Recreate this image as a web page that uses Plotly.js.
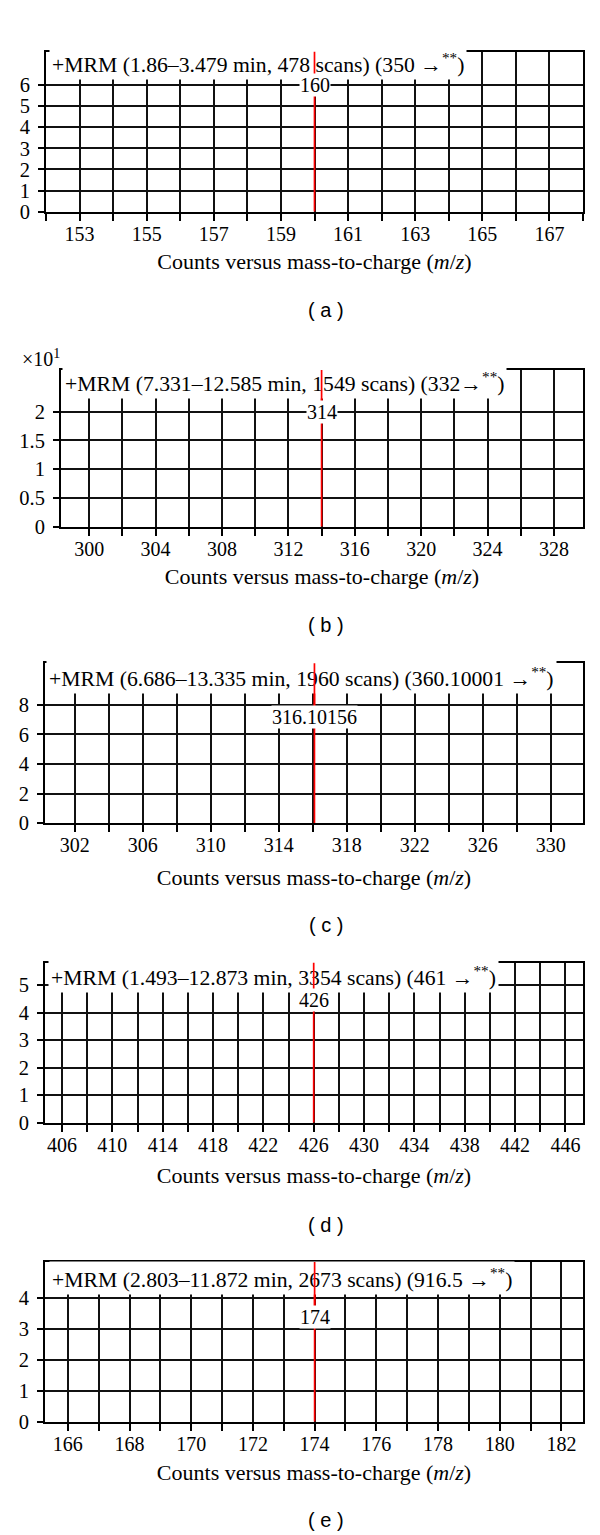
<!DOCTYPE html>
<html><head><meta charset="utf-8">
<script src="https://cdn.plot.ly/plotly-3.0.1.min.js"></script>
<style>html,body{margin:0;padding:0;background:#fff}#chart{width:600px;height:1535px}</style>
</head><body><div id="chart"></div>
<script>
// ---------- DATA ----------
// (a)
const aTitle = '+MRM (1.86–3.479 min, 478 scans) (350 →<sup>**</sup>)';
const aPeakMz = [160];
const aPeakCounts = [7.8];
const aPeakLabels = ['160'];
const aXTicks = [153, 155, 157, 159, 161, 163, 165, 167];
const aYTicks = [0, 1, 2, 3, 4, 5, 6];
// (b)  counts ×10^1
const bTitle = '+MRM (7.331–12.585 min, 1549 scans) (332→<sup>**</sup>)';
const bPeakMz = [314];
const bPeakCounts = [2.8];
const bPeakLabels = ['314'];
const bXTicks = [300, 304, 308, 312, 316, 320, 324, 328];
const bYTicks = [0, 0.5, 1, 1.5, 2];
// (c)
const cTitle = '+MRM (6.686–13.335 min, 1960 scans) (360.10001 →<sup>**</sup>)';
const cPeakMz = [316.10156];
const cPeakCounts = [11];
const cPeakLabels = ['316.10156'];
const cXTicks = [302, 306, 310, 314, 318, 322, 326, 330];
const cYTicks = [0, 2, 4, 6, 8];
// (d)
const dTitle = '+MRM (1.493–12.873 min, 3354 scans) (461 →<sup>**</sup>)';
const dPeakMz = [426];
const dPeakCounts = [6];
const dPeakLabels = ['426'];
const dXTicks = [406, 410, 414, 418, 422, 426, 430, 434, 438, 442, 446];
const dYTicks = [0, 1, 2, 3, 4, 5];
// (e)
const eTitle = '+MRM (2.803–11.872 min, 2673 scans) (916.5 →<sup>**</sup>)';
const ePeakMz = [174];
const ePeakCounts = [5.3];
const ePeakLabels = ['174'];
const eXTicks = [166, 168, 170, 172, 174, 176, 178, 180, 182];
const eYTicks = [0, 1, 2, 3, 4];

const captions = ['( a )', '( b )', '( c )', '( d )', '( e )'];
const xAxisTitle = 'Counts versus mass-to-charge (<i>m</i>/<i>z</i>)';

// ---------- LAYOUT CONFIG (pixel geometry) ----------
const W = 600, H = 1535;
const panels = [
  {title: aTitle, mz: aPeakMz, cnt: aPeakCounts, lab: aPeakLabels, xt: aXTicks, yt: aYTicks,
   box: [46, 583, 51.7, 211.7], xr: [152, 168], yr: [0, 7.58], gridStep: 1, grid0: 152,
   tLeft: 49, tCy: 63, labY: 6, standoff: 10, capY: 310},
  {title: bTitle, mz: bPeakMz, cnt: bPeakCounts, lab: bPeakLabels, xt: bXTicks, yt: bYTicks,
   box: [61, 583, 370, 526.7], xr: [298.3, 329.75], yr: [0, 2.725], gridStep: 2, grid0: 300,
   tLeft: 62, tCy: 382, labY: 2, standoff: 10, capY: 625},
  {title: cTitle, mz: cPeakMz, cnt: cPeakCounts, lab: cPeakLabels, xt: cXTicks, yt: cYTicks,
   box: [45, 583, 663.3, 823.3], xr: [300.25, 331.9], yr: [0, 10.8], gridStep: 2, grid0: 302,
   tLeft: 46, tCy: 677, labY: 7.2, standoff: 14, capY: 925},
  {title: dTitle, mz: dPeakMz, cnt: dPeakCounts, lab: dPeakLabels, xt: dXTicks, yt: dYTicks,
   box: [45, 583, 962.7, 1122.7], xr: [404.65, 447.4], yr: [0, 5.81], gridStep: 2, grid0: 406,
   tLeft: 48, tCy: 976, labY: 4.45, standoff: 13, capY: 1225},
  {title: eTitle, mz: ePeakMz, cnt: ePeakCounts, lab: ePeakLabels, xt: eXTicks, yt: eYTicks,
   box: [45, 583, 1262, 1421.7], xr: [165.26, 182.7], yr: [0, 5.15], gridStep: 1, grid0: 166,
   tLeft: 49, tCy: 1278, labY: 3.38, standoff: 11, capY: 1520}
];

const SERIF = 'Liberation Serif, Times New Roman, serif';
const traces = [];
const layout = {
  width: W, height: H, margin: {l: 0, r: 0, t: 0, b: 0},
  paper_bgcolor: '#fff', plot_bgcolor: '#fff', showlegend: false,
  annotations: []
};

panels.forEach((p, i) => {
  const n = i === 0 ? '' : String(i + 1);
  const xa = 'xaxis' + n, ya = 'yaxis' + n;
  const xr = 'x' + n, yr = 'y' + n;
  const [L, R, T, B] = p.box;
  const xs = [], ys = [];
  p.mz.forEach((m, k) => { xs.push(m, m, null); ys.push(0, p.cnt[k], null); });
  traces.push({type: 'scatter', mode: 'lines', x: xs, y: ys, xaxis: xr, yaxis: yr,
    line: {color: '#ff0000', width: 1.7}, hoverinfo: 'skip', cliponaxis: true});

  // grid/tick positions every gridStep; labels only where the reference labels them
  const gridVals = [];
  for (let v = p.grid0; v <= p.xr[1] + 1e-9; v += p.gridStep) gridVals.push(v);
  const gridText = gridVals.map(v => p.xt.includes(v) ? String(v) : '');

  layout[xa] = {
    domain: [L / W, R / W], anchor: yr, range: p.xr,
    tickmode: 'array', tickvals: gridVals, ticktext: gridText,
    ticks: 'outside', ticklen: 7, tickwidth: 2, tickcolor: '#000', ticklabelstandoff: -4,
    showgrid: true, gridcolor: '#111', gridwidth: 2,
    showline: true, mirror: true, linecolor: '#000', linewidth: 2, zeroline: false,
    tickfont: {family: SERIF, size: 20, color: '#000'},
    title: {text: xAxisTitle, font: {family: SERIF, size: 22, color: '#000'}, standoff: p.standoff},
    automargin: false, fixedrange: true
  };
  layout[ya] = {
    domain: [1 - B / H, 1 - T / H], anchor: xr, range: p.yr,
    tickmode: 'array', tickvals: p.yt, ticktext: p.yt.map(String),
    ticks: 'outside', ticklen: 6, tickwidth: 2, tickcolor: '#000', ticklabelstandoff: 4,
    showgrid: true, gridcolor: '#111', gridwidth: 2,
    showline: true, mirror: true, linecolor: '#000', linewidth: 2, zeroline: false,
    tickfont: {family: SERIF, size: 20.5, color: '#000'},
    automargin: false, fixedrange: true
  };

  // scan title with white box over the grid
  layout.annotations.push({xref: 'paper', yref: 'paper', x: p.tLeft / W, y: 1 - p.tCy / H,
    xanchor: 'left', yanchor: 'middle', text: p.title, showarrow: false,
    bgcolor: '#fff', borderpad: 2,
    font: {family: SERIF, size: 21.7, color: '#000'}});

  // peak line continues through the title box (drawn via the axes' scales)
  p.mz.forEach((m, k) => {
    layout.annotations.push({xref: xr, yref: yr, axref: xr, ayref: yr,
      x: m, y: Math.min(p.cnt[k], p.yr[1]), ax: m, ay: p.labY,
      text: '', showarrow: true, arrowhead: 0, arrowwidth: 1.7, arrowcolor: '#ff0000',
      standoff: 0, startstandoff: 0});
  });

  p.mz.forEach((m, k) => {
    layout.annotations.push({xref: xr, yref: yr, x: m, y: p.labY, text: p.lab[k],
      showarrow: false, bgcolor: '#fff', borderpad: 0, xanchor: 'center', yanchor: 'middle',
      font: {family: SERIF, size: 20, color: '#000'}});
  });

  layout.annotations.push({xref: 'paper', yref: 'paper', x: 326 / W, y: 1 - p.capY / H,
    xanchor: 'center', yanchor: 'middle', text: captions[i], showarrow: false,
    font: {family: 'Liberation Sans, Arial, sans-serif', size: 20, color: '#000'}});
});

layout.annotations.push({xref: 'paper', yref: 'paper', x: 20 / W, y: 1 - 358 / H,
  xanchor: 'left', yanchor: 'middle', text: '×10<sup>1</sup>', showarrow: false,
  font: {family: SERIF, size: 20, color: '#000'}});

Plotly.newPlot('chart', traces, layout, {staticPlot: true, displayModeBar: false});
</script></body></html>
